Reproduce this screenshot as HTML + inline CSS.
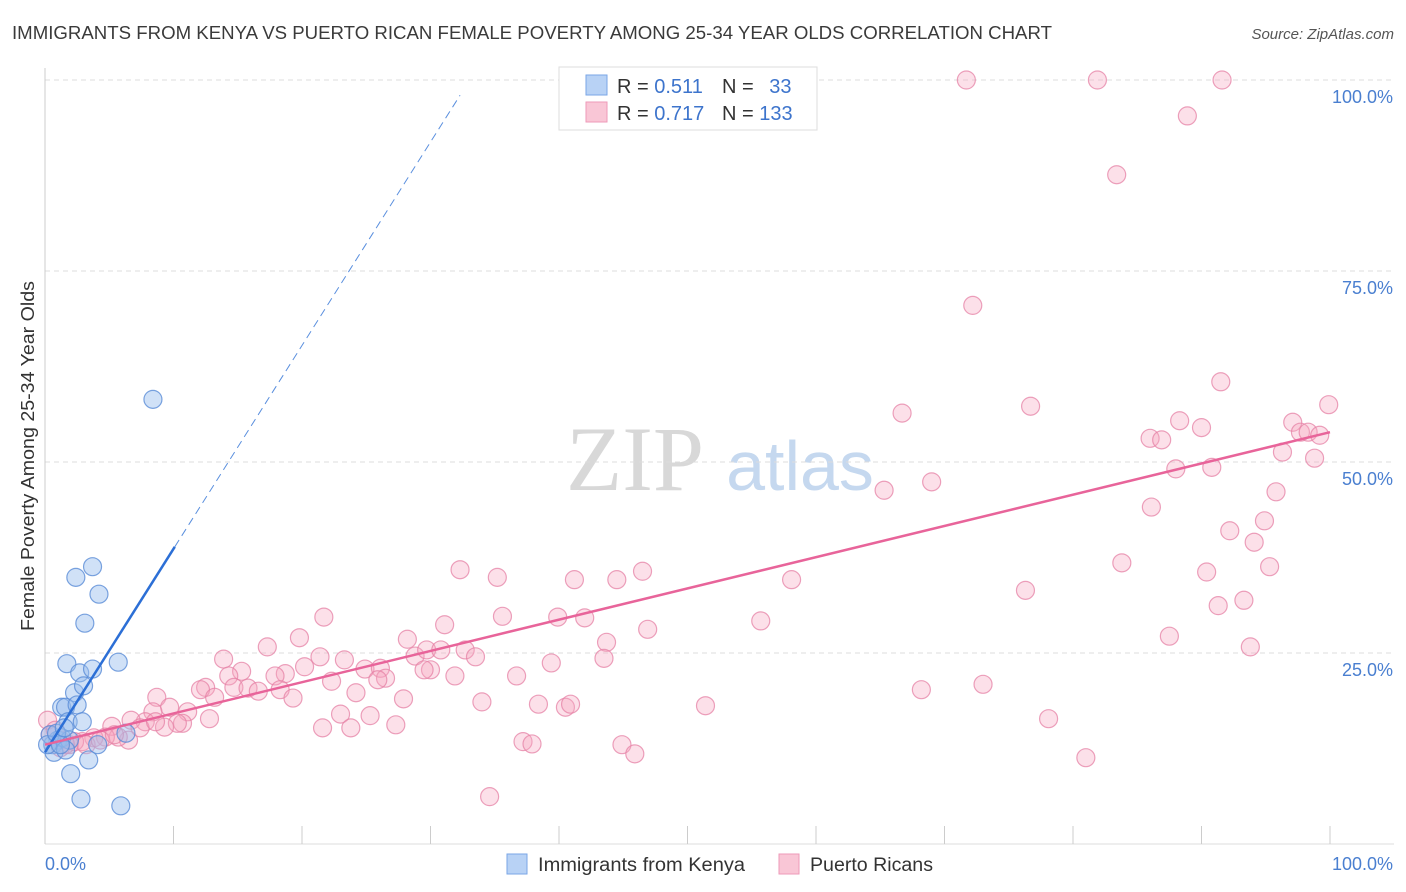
<!DOCTYPE html>
<html><head><meta charset="utf-8">
<style>
body{margin:0;background:#fff;font-family:"Liberation Sans",sans-serif;}
svg{display:block}
</style></head><body>
<svg id="chart" width="1406" height="892" viewBox="0 0 1406 892" xmlns="http://www.w3.org/2000/svg">
<text x="12" y="39" font-size="18" fill="#3a3a3a" textLength="1040" lengthAdjust="spacingAndGlyphs">IMMIGRANTS FROM KENYA VS PUERTO RICAN FEMALE POVERTY AMONG 25-34 YEAR OLDS CORRELATION CHART</text>
<text x="1394" y="39" font-size="15" fill="#555" text-anchor="end" font-style="italic">Source: ZipAtlas.com</text>
<text transform="translate(34,456) rotate(-90)" font-size="18" fill="#333" text-anchor="middle" textLength="350" lengthAdjust="spacingAndGlyphs">Female Poverty Among 25-34 Year Olds</text>
<g>
<text x="635" y="490" font-size="92" fill="#d8d8d8" font-family="Liberation Serif,serif" text-anchor="middle">ZIP</text>
<text x="800" y="490" font-size="70" fill="#c5d8ef" text-anchor="middle">atlas</text>
</g>
<g id="grid"></g>
<g id="axes"></g>
<g id="pink"></g>
<g id="blue"></g>
<g id="lines"></g>
<g>
<rect x="559" y="67" width="258" height="63" fill="#fff" stroke="#ddd"/>
<rect x="586" y="75" width="21" height="20" fill="#b8d2f5" stroke="#7aa6e6"/>
<rect x="586" y="102" width="21" height="20" fill="#f9c6d6" stroke="#ee9ab8"/>
<text x="617" y="93" font-size="20" fill="#333">R = <tspan fill="#3d74cc">0.511</tspan></text>
<text x="722" y="93" font-size="20" fill="#333">N = <tspan fill="#3d74cc" dx="10">33</tspan></text>
<text x="617" y="120" font-size="20" fill="#333">R = <tspan fill="#3d74cc">0.717</tspan></text>
<text x="722" y="120" font-size="20" fill="#333">N = <tspan fill="#3d74cc">133</tspan></text>
</g>
<g>
<rect x="507" y="854" width="20" height="20" fill="#b8d2f5" stroke="#7aa6e6"/>
<text x="538" y="871" font-size="19" fill="#333" textLength="207" lengthAdjust="spacingAndGlyphs">Immigrants from Kenya</text>
<rect x="779" y="854" width="20" height="20" fill="#f9c6d6" stroke="#ee9ab8"/>
<text x="810" y="871" font-size="19" fill="#333" textLength="123" lengthAdjust="spacingAndGlyphs">Puerto Ricans</text>
</g>
</svg>
<script>
const yTicks=[25,50,75,100];
const yTickLabels=["25.0%","50.0%","75.0%","100.0%"];
const xTicks=[0,10,20,30,40,50,60,70,80,90,100];
const blueX=[8.4,2.4,3.7,4.2,3.1,1.7,2.7,3.7,5.7,2.3,3.0,1.3,1.6,2.5,1.8,2.9,1.0,0.6,1.3,1.9,0.7,1.6,4.1,6.3,3.4,2.0,2.8,5.9,0.4,0.2,1.2,0.9,1.5];
const blueY=[58.2,34.9,36.3,32.7,28.9,23.6,22.4,22.9,23.8,19.8,20.7,17.9,17.9,18.2,16.0,16.0,13.6,13.0,13.9,13.6,12.0,12.3,13.0,14.5,11.0,9.2,5.9,5.0,14.3,13.0,13.0,14.5,15.2];
const pinkX=[71.7,81.9,91.6,88.9,83.4,72.2,91.5,99.9,76.7,66.7,88.3,90.0,97.1,97.7,86.0,86.9,98.3,99.2,96.3,98.8,90.8,88.0,65.3,69.0,95.8,86.1,94.9,92.2,94.1,83.8,95.3,90.4,76.3,93.3,91.3,58.1,87.5,93.8,68.2,73.0,78.1,81.0,32.3,35.2,41.2,44.5,46.5,35.6,39.9,42.0,21.7,46.9,43.7,55.7,31.1,28.2,19.8,17.3,13.9,15.3,21.4,23.3,20.2,24.9,26.1,28.8,29.7,30.8,32.7,33.5,39.4,43.5,36.7,31.9,30.0,29.5,26.5,25.9,22.3,18.7,17.9,14.3,14.7,12.5,12.1,15.8,16.6,18.3,19.3,24.2,27.9,13.2,8.7,9.7,11.1,8.4,12.8,23.0,25.3,21.6,23.8,27.3,34.0,38.4,40.5,40.9,51.4,37.2,37.9,44.9,45.9,34.6,10.7,10.3,9.3,7.8,6.7,5.2,6.5,5.7,4.7,3.8,2.9,1.9,1.2,0.4,0.2,0.8,1.2,1.6,2.3,3.2,4.3,7.4,8.6,5.4];
const pinkY=[100,100,100,95.3,87.6,70.5,60.5,57.5,57.3,56.4,55.4,54.5,55.2,53.9,53.1,52.9,53.9,53.5,51.3,50.5,49.3,49.1,46.3,47.4,46.1,44.1,42.3,41.0,39.5,36.8,36.3,35.6,33.2,31.9,31.2,34.6,27.2,25.8,20.2,20.9,16.4,11.3,35.9,34.9,34.6,34.6,35.7,29.8,29.7,29.6,29.7,28.1,26.4,29.2,28.7,26.8,27.0,25.8,24.2,22.6,24.5,24.1,23.2,22.9,23.0,24.6,25.4,25.4,25.4,24.5,23.7,24.3,22.0,22.0,22.8,22.8,21.7,21.5,21.3,22.3,22.0,22.0,20.5,20.5,20.2,20.4,20.0,20.2,19.1,19.8,19.0,19.2,19.2,17.9,17.3,17.3,16.4,17.0,16.8,15.2,15.2,15.6,18.6,18.3,17.9,18.3,18.1,13.4,13.1,13.0,11.8,6.2,15.8,15.8,15.3,16.0,16.2,15.4,13.6,14.0,14.0,13.9,13.4,13.0,13.6,14.3,16.2,14.9,12.6,13.0,13.4,13.0,13.6,15.2,16.0,14.3];
const blueLine=[0,12.0,10.1,38.9,32.3,98.0];
const pinkLine=[0,13.0,100,53.9];

const NS="http://www.w3.org/2000/svg";
const X=v=>45+v*12.85, Y=v=>844-v*7.64;
function mk(tag,attrs,parent){const e=document.createElementNS(NS,tag);for(const k in attrs)e.setAttribute(k,attrs[k]);document.getElementById(parent).appendChild(e);return e;}
yTicks.forEach((t,i)=>{
 const g=mk('line',{x1:45,x2:1394,y1:Y(t),y2:Y(t),stroke:'#ddd','stroke-dasharray':'5,4'},'grid');
 
 
 const l=mk('text',{x:1393,y:Y(t)+23,'font-size':18,fill:'#4a7fd0','text-anchor':'end'},'grid');
 l.textContent=yTickLabels[i];
 
 
});
const ax=mk('line',{x1:45,x2:45,y1:68,y2:844,stroke:'#ccc'},'axes');


const bx=mk('line',{x1:45,x2:1394,y1:844,y2:844,stroke:'#ddd'},'axes');


xTicks.forEach(t=>{
 const k=mk('line',{x1:X(t),x2:X(t),y1:826,y2:844,stroke:'#ccc'},'axes');
 
 
});
const xl0=mk('text',{x:45,y:870,'font-size':18,fill:'#4a7fd0'},'axes');xl0.textContent='0.0%';


const xl1=mk('text',{x:1393,y:870,'font-size':18,fill:'#4a7fd0','text-anchor':'end'},'axes');xl1.textContent='100.0%';


pinkX.forEach((v,i)=>{
 const c=mk('circle',{cx:X(v),cy:Y(pinkY[i]),r:9,fill:'rgba(245,165,192,0.35)',stroke:'rgba(230,130,165,0.75)','stroke-width':1.2},'pink');
 
 
});
blueX.forEach((v,i)=>{
 const c=mk('circle',{cx:X(v),cy:Y(blueY[i]),r:9,fill:'rgba(150,188,238,0.45)',stroke:'rgba(90,140,215,0.8)','stroke-width':1.2},'blue');
 
 
});
const b1=mk('line',{x1:X(blueLine[0]),y1:Y(blueLine[1]),x2:X(blueLine[2]),y2:Y(blueLine[3]),stroke:'#2c6fd6','stroke-width':2.5},'lines');


const b2=mk('line',{x1:X(blueLine[2]),y1:Y(blueLine[3]),x2:X(blueLine[4]),y2:Y(blueLine[5]),stroke:'#5a8fde','stroke-width':1,'stroke-dasharray':'8,5'},'lines');


const p1=mk('line',{x1:X(pinkLine[0]),y1:Y(pinkLine[1]),x2:X(pinkLine[2]),y2:Y(pinkLine[3]),stroke:'#e8649a','stroke-width':2.5},'lines');


</script>
</body></html>
